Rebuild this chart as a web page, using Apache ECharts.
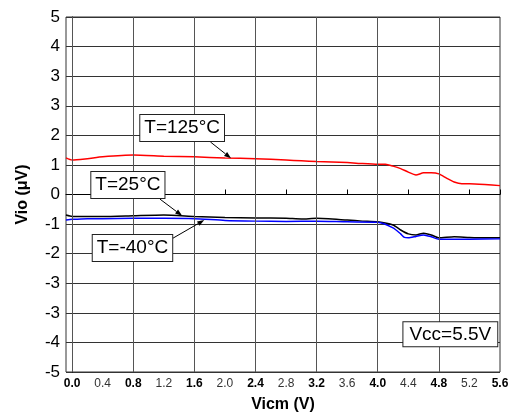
<!DOCTYPE html>
<html>
<head>
<meta charset="utf-8">
<script src="https://cdn.jsdelivr.net/npm/echarts@6/dist/echarts.min.js"></script>
<style>
  html, body { margin: 0; padding: 0; background: #fff; }
  #chart { width: 517px; height: 418px; }
</style>
</head>
<body>
<div id="chart"></div>
<script>
// common-mode voltage (V) and offset voltage (uV) per temperature
const xRed = [-0.08, 0.0, 0.2, 0.4, 0.8, 1.2, 1.6, 2.0, 2.4, 2.8, 3.0, 3.2, 3.6, 3.8, 4.0, 4.1, 4.2, 4.3, 4.4, 4.5, 4.6, 4.7, 4.8, 4.9, 5.0, 5.1, 5.2, 5.4, 5.6];
const vioHot = [1.03, 0.97, 1.01, 1.06, 1.11, 1.08, 1.06, 1.03, 1.01, 0.97, 0.95, 0.93, 0.90, 0.87, 0.85, 0.85, 0.80, 0.73, 0.63, 0.55, 0.61, 0.61, 0.58, 0.46, 0.35, 0.30, 0.30, 0.28, 0.25];

const xBlack = [-0.08, 0.0, 0.4, 0.8, 1.2, 1.6, 2.0, 2.4, 2.8, 3.0, 3.2, 3.6, 3.8, 4.0, 4.2, 4.3, 4.4, 4.5, 4.6, 4.7, 4.8, 5.0, 5.2, 5.4, 5.6];
const vioRoom = [-0.58, -0.62, -0.62, -0.60, -0.58, -0.62, -0.65, -0.66, -0.67, -0.69, -0.67, -0.72, -0.75, -0.77, -0.86, -1.00, -1.11, -1.14, -1.09, -1.14, -1.22, -1.19, -1.21, -1.22, -1.22];

const xBlue = [-0.08, 0.0, 0.2, 0.4, 0.8, 1.2, 1.6, 2.0, 2.4, 2.8, 3.2, 3.6, 4.0, 4.2, 4.3, 4.35, 4.4, 4.5, 4.6, 4.7, 4.8, 5.0, 5.2, 5.6];
const vioCold = [-0.72, -0.70, -0.68, -0.68, -0.67, -0.67, -0.68, -0.73, -0.75, -0.76, -0.75, -0.77, -0.78, -0.94, -1.11, -1.21, -1.22, -1.18, -1.14, -1.19, -1.26, -1.26, -1.26, -1.25];

const xTickValues = [0, 0.4, 0.8, 1.2, 1.6, 2.0, 2.4, 2.8, 3.2, 3.6, 4.0, 4.4, 4.8, 5.2, 5.6];
const xTickLabels = ['0.0', '0.4', '0.8', '1.2', '1.6', '2.0', '2.4', '2.8', '3.2', '3.6', '4.0', '4.4', '4.8', '5.2', '5.6'];
const xGridValues = [0, 0.8, 1.6, 2.4, 3.2, 4.0, 4.8];
// y ticks from bottom to top (12 divisions, labels rounded as in the source)
const yTickLabels = ['-5', '-4', '-3', '-3', '-2', '-1', '0', '1', '2', '3', '3', '4', '5'];

const FONT = 'Arial, "Liberation Sans", sans-serif';

const pairs = (xs, ys) => xs.map((x, i) => [x, ys[i]]);

const chart = echarts.init(document.getElementById('chart'));

const option = {
  animation: false,
  grid: {
    left: 66, right: 17, top: 17, bottom: 46,
    show: true,
    borderColor: '#333',
    borderWidth: 1
  },
  xAxis: {
    type: 'value',
    min: -0.08,
    max: 5.6,
    name: 'Vicm (V)',
    nameLocation: 'middle',
    nameGap: 25,
    nameTextStyle: { fontFamily: FONT, fontSize: 16, fontWeight: 'bold', color: '#000' },
    axisLine: { show: true, lineStyle: { color: '#000' } },
    splitLine: { show: false },
    axisTick: {
      show: true,
      inside: true,
      length: 5,
      customValues: xTickValues,
      lineStyle: { color: '#000' }
    },
    axisLabel: {
      customValues: xTickValues,
      margin: 6,
      formatter: (v) => {
        const i = Math.round(v / 0.4);
        return i % 2 === 0 ? '{b|' + xTickLabels[i] + '}' : '{n|' + xTickLabels[i] + '}';
      },
      rich: {
        b: { fontFamily: FONT, fontSize: 12, fontWeight: 'bold', color: '#000' },
        n: { fontFamily: FONT, fontSize: 12, color: '#333' }
      }
    }
  },
  yAxis: {
    type: 'value',
    min: -5,
    max: 5,
    interval: 10 / 12,
    name: 'Vio (\u03bcV)',
    nameLocation: 'middle',
    nameGap: 35,
    nameTextStyle: { fontFamily: FONT, fontSize: 16, fontWeight: 'bold', color: '#000' },
    axisLine: { show: true, lineStyle: { color: '#000' } },
    axisTick: { show: false },
    splitLine: { show: true, lineStyle: { color: '#333', width: 1 } },
    axisLabel: {
      fontFamily: FONT,
      fontSize: 17,
      color: '#000',
      margin: 6,
      formatter: (v, idx) => yTickLabels[idx]
    }
  },
  series: [
    {
      name: 'grid',
      type: 'line',
      data: [],
      z: 1,
      silent: true,
      markLine: {
        silent: true,
        symbol: 'none',
        label: { show: false },
        lineStyle: { color: '#555', width: 1, type: 'solid' },
        data: xGridValues.map(v => ({ xAxis: v }))
      }
    },
    {
      name: 'T=125°C',
      type: 'line',
      data: pairs(xRed, vioHot),
      showSymbol: false,
      smooth: 0.2,
      z: 3,
      lineStyle: { color: '#ff0000', width: 1.5 }
    },
    {
      name: 'T=25°C',
      type: 'line',
      data: pairs(xBlack, vioRoom),
      showSymbol: false,
      smooth: 0.2,
      z: 3,
      lineStyle: { color: '#000000', width: 1.5 }
    },
    {
      name: 'T=-40°C',
      type: 'line',
      data: pairs(xBlue, vioCold),
      showSymbol: false,
      smooth: 0.2,
      z: 4,
      lineStyle: { color: '#0000ff', width: 1.5 }
    }
  ]
};

chart.setOption(option);

// annotation boxes in data coordinates; arrows go from 'from' to 'to'
const notes = [
  { text: 'T=125°C', at: [1.44, 1.87], from: [1.81, 1.48], to: [2.08, 1.02] },
  { text: 'T=25°C', at: [0.73, 0.27], from: [1.15, -0.13], to: [1.44, -0.60] },
  { text: 'T=-40°C', at: [0.79, -1.51], from: [1.28, -1.28], to: [1.73, -0.72] },
  { text: 'Vcc=5.5V', at: [4.95, -3.94], size: 19, pad: [3, 6, 2, 6] }
];

const px = (p) => chart.convertToPixel({ gridIndex: 0 }, p);

const graphics = [];
notes.forEach(n => {
  if (n.from) {
    const a = px(n.from), b = px(n.to);
    const ang = Math.atan2(b[1] - a[1], b[0] - a[0]);
    const L = 7, W = 2.5;
    const bx = b[0] - L * Math.cos(ang), by = b[1] - L * Math.sin(ang);
    graphics.push({
      type: 'line', z: 10,
      shape: { x1: a[0], y1: a[1], x2: bx, y2: by },
      style: { stroke: '#000', lineWidth: 1 }
    });
    graphics.push({
      type: 'polygon', z: 10,
      shape: { points: [
        [b[0], b[1]],
        [bx - W * Math.sin(ang), by + W * Math.cos(ang)],
        [bx + W * Math.sin(ang), by - W * Math.cos(ang)]
      ] },
      style: { fill: '#000' }
    });
  }
  const c = px(n.at);
  graphics.push({
    type: 'text', z: 11,
    x: c[0], y: c[1],
    style: {
      text: n.text,
      fontFamily: FONT,
      fontSize: n.size || 19,
      fill: '#000',
      align: 'center',
      verticalAlign: 'middle',
      backgroundColor: '#fff',
      borderColor: '#222',
      borderWidth: 1,
      padding: n.pad || [4, 4, 3, 4]
    }
  });
});

chart.setOption({ graphic: graphics });
</script>
</body>
</html>
